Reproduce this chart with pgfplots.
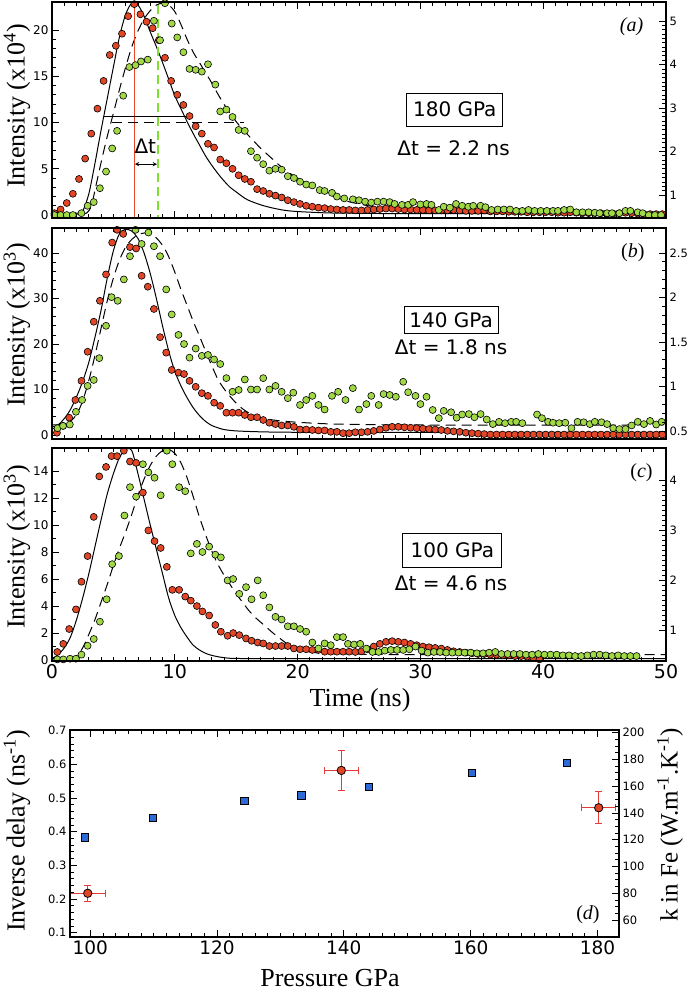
\documentclass[border=0pt]{standalone}
\usepackage{fontspec}
\setmainfont{Liberation Serif}
\newfontfamily\dv{DejaVu Sans}
\usepackage{pgfplots}
\pgfplotsset{compat=1.18}
\definecolor{rfill}{RGB}{226,70,38}
\definecolor{gfill}{RGB}{160,216,70}
\definecolor{bfill}{RGB}{45,105,215}
\definecolor{errred}{RGB}{225,60,55}
\definecolor{vred}{RGB}{235,70,40}
\definecolor{vgreen}{RGB}{130,222,50}
\pgfplotsset{
  base/.style={scale only axis, tick align=inside, axis line style={line width=1.1pt},
    every tick/.style={black, line width=0.8pt}, major tick length=7pt, minor tick length=4pt,
    /pgf/number format/assume math mode=true},
  redpts/.style={only marks, mark=*, mark size=3.5pt, mark options={fill=rfill, draw=black, line width=0.6pt}},
  grnpts/.style={only marks, mark=*, mark size=3.5pt, mark options={fill=gfill, draw=black, line width=0.6pt}},
  fitsolid/.style={no marks, black, line width=1pt, smooth},
  fitdash/.style={no marks, black, line width=1pt, dash pattern=on 10pt off 6pt, smooth},
}
\begin{document}
\begin{tikzpicture}
\useasboundingbox (0,0) rectangle (692pt,-993pt);
% ---------------- panel (a)
\begin{axis}[base, at={(52pt,-2pt)}, anchor=north west, width=614pt, height=216pt,
  xmin=0, xmax=50, ymin=-0.32, ymax=23.03, xtick={0,10,...,50}, minor x tick num=9, xticklabels={},
  ytick={0,5,...,20}, minor y tick num=4, ytick pos=left,
  yticklabel style={font=\dv\fontsize{12}{12}\selectfont}]
\addplot[fitsolid] table {
0 0.15
1 0.15
2 0.2
2.5 0.45
3 2.3
3.5 5.6
4 9.2
4.5 12.6
5 16.0
5.5 19.3
6 21.7
6.5 22.9
7 22.7
7.5 21.5
8 19.8
8.5 18.2
9 16.5
9.5 14.7
10 12.9
10.5 11.5
11 10.1
11.5 8.8
12 7.6
12.5 6.4
13 5.4
13.5 4.5
14 3.7
14.5 3.0
15 2.5
15.5 2.0
16 1.6
17 1.1
18 0.75
19 0.5
20 0.38
22 0.25
24 0.2
30 0.15
50 0.15
};
\addplot[fitdash] table {
0 0.1
2 0.1
2.8 0.2
3.2 1.0
3.6 3.3
4 5.7
4.5 8.5
5 11.0
5.5 13.6
6 16.0
6.5 18.2
7 19.9
7.5 21.2
8 22.1
8.5 22.7
9 22.9
9.5 22.7
10 22.0
10.5 20.6
11 19.0
11.5 17.6
12 16.5
12.5 15.4
13 14.3
13.5 13.1
14 12.0
14.5 11.0
15 10.1
15.5 9.3
16 8.6
16.5 7.9
17 7.2
17.5 6.6
18 6.0
18.5 5.4
19 4.9
19.5 4.4
20 4.0
21 3.2
22 2.5
23 2.0
24 1.5
25 1.2
26 0.95
27 0.75
28 0.6
30 0.4
32 0.3
35 0.25
40 0.2
50 0.2
};
\addplot[redpts] table {
0.2 0.2
0.7 0.6
1.2 1.3
1.7 2.3
2.2 3.9
2.7 6.1
3.2 8.8
3.7 11.5
4.2 14.5
4.7 17.3
5.2 18.3
5.7 19.6
6.2 21.5
6.7 22.8
7.2 21.7
7.7 20.9
8.2 20.2
8.7 18.9
9.2 17.0
9.7 14.5
10.2 13.0
10.7 11.9
11.2 10.7
11.7 9.6
12.2 8.8
12.7 7.7
13.2 7.3
13.7 6.0
14.2 5.6
14.7 5.0
15.2 4.3
15.7 3.9
16.2 3.6
16.7 2.8
17.2 2.6
17.7 2.3
18.2 2.1
18.7 1.9
19.2 1.6
19.7 1.4
20.2 1.2
20.7 1.0
21.2 0.9
21.7 0.8
22.2 0.75
22.7 0.65
23.2 0.6
23.7 0.55
24.2 0.55
24.7 0.5
25.2 0.5
25.7 0.55
26.2 0.6
26.7 0.65
27.2 0.7
27.7 0.7
28.2 0.65
28.7 0.6
29.2 0.6
29.7 0.55
30.2 0.55
30.7 0.5
31.2 0.5
31.7 0.5
32.2 0.5
32.7 0.55
33.2 0.5
33.7 0.45
34.2 0.45
34.7 0.45
35.2 0.5
35.7 0.4
36.2 0.4
36.7 0.4
37.2 0.35
37.7 0.35
38.2 0.35
38.7 0.3
39.2 0.3
39.7 0.3
40.2 0.3
40.7 0.3
41.2 0.25
41.7 0.25
42.2 0.3
42.7 0.25
43.2 0.2
43.7 0.2
44.2 0.2
44.7 0.2
45.2 0.15
45.7 0.15
46.2 0.2
46.7 0.25
47.2 0.2
47.7 0.15
48.2 0.1
48.7 0.1
49.2 0.1
49.7 0.1
};
\addplot[grnpts] table {
0.2 0.0
0.7 0.0
1.2 0.0
1.7 0.0
2.4 0.2
2.9 1.0
3.4 1.4
3.9 2.9
4.4 4.7
4.9 7.2
5.3 9.1
5.8 12.9
6.3 16.0
6.8 16.2
7.25 16.6
7.8 16.8
8.3 21.0
8.8 18.9
9.2 22.9
9.75 20.7
10.2 19.2
10.7 17.6
11.2 15.8
11.7 15.7
12.2 15.5
12.7 16.3
13.3 14.1
13.7 11.2
14.2 11.4
14.7 10.6
15.2 9.2
15.7 9.1
16.2 6.9
16.7 6.2
17.2 5.5
17.7 4.8
18.2 5.0
18.7 4.9
19.2 4.2
19.7 4.0
20.2 3.6
20.7 3.3
21.2 3.2
21.8 2.7
22.2 2.6
22.8 2.4
23.2 2.0
23.8 1.8
24.5 1.7
25.0 1.6
25.5 1.45
26.0 1.35
26.5 1.45
27.0 1.45
27.5 1.4
27.9 1.2
28.5 1.1
29.0 1.1
29.4 1.4
30.0 1.15
30.5 1.2
30.9 1.1
31.5 0.55
31.9 0.9
32.4 0.8
32.9 1.2
33.4 1.0
33.9 0.9
34.3 1.0
34.9 1.0
35.3 0.85
35.8 0.55
36.3 0.6
36.8 0.6
37.3 0.6
37.8 0.45
38.3 0.45
38.8 0.55
39.3 0.45
39.8 0.45
40.3 0.45
40.8 0.45
41.2 0.45
41.7 0.55
42.2 0.6
42.7 0.3
43.2 0.3
43.7 0.3
44.2 0.25
44.6 0.2
45.2 0.2
45.6 0.2
46.2 0.2
46.7 0.45
47.1 0.45
47.7 0.3
48.1 0.2
48.6 0.0
49.1 0.0
49.6 0.0
};
\addplot[vred, line width=1.3pt] coordinates {(6.7,-1) (6.7,24)};
\addplot[vgreen, line width=1.8pt, dash pattern=on 9pt off 5pt] coordinates {(8.6,-1) (8.6,24)};
\addplot[black, line width=1pt] coordinates {(4.2,10.6) (11.0,10.6)};
\addplot[black, line width=1pt, dash pattern=on 10pt off 6pt] coordinates {(4.9,9.95) (15.6,9.95)};
\addplot[black, line width=0.9pt, <->, >=stealth] coordinates {(6.75,5.5) (8.55,5.5)};
\node[font=\dv\fontsize{20}{20}\selectfont] at (axis cs:7.6,7.4) {Δt};
\node[draw, line width=0.8pt, font=\dv\fontsize{20}{20}\selectfont, minimum width=96pt, minimum height=33pt, inner sep=2pt] at (axis cs:32.8,11.4) {180 GPa};
\node[font=\dv\fontsize{20}{20}\selectfont] at (axis cs:32.7,7.2) {Δt = 2.2 ns};
\node[font=\itshape\fontsize{20}{20}\selectfont] at (axis cs:47.2,20.4) {(\textit{a})};
\end{axis}
\begin{axis}[base, at={(52pt,-2pt)}, anchor=north west, width=614pt, height=216pt,
  xmin=0, xmax=50, ymin=0.47, ymax=5.44, xtick=\empty, ytick={1,...,5}, minor y tick num=9,
  ytick pos=right, yticklabel pos=right,
  yticklabel style={font=\dv\fontsize{11.5}{11.5}\selectfont}]
\addplot[draw=none] coordinates {(0,1)};
\end{axis}
% ---------------- panel (b)
\begin{axis}[base, at={(52pt,-228pt)}, anchor=north west, width=614pt, height=211pt,
  xmin=0, xmax=50, ymin=-0.88, ymax=45.5, xtick={0,10,...,50}, minor x tick num=9, xticklabels={},
  ytick={0,10,...,40}, minor y tick num=4, ytick pos=left,
  yticklabel style={font=\dv\fontsize{12}{12}\selectfont}]
\addplot[fitsolid] table {
0 1.2
0.5 2.2
1 3.6
1.5 5.6
2 8.4
2.5 11.8
3 16.0
3.5 21.5
4 27.5
4.5 34.5
5 40.5
5.5 44.3
6 45.2
6.5 44.8
7 43.2
7.5 40.0
8 35.5
8.5 30.0
9 24.0
9.5 18.5
10 14.0
10.5 10.8
11 8.2
11.5 6.0
12 4.3
12.5 3.0
13 2.1
13.5 1.6
14 1.2
15 0.9
17 0.7
20 0.6
30 0.6
50 0.6
};
\addplot[fitdash] table {
0 2.2
1 2.4
1.5 3.0
2 4.5
2.5 7.5
3 12.0
3.5 17.5
4 23.5
4.5 29.5
5 34.5
5.5 38.5
6 41.3
6.5 43.0
7 44.0
7.5 44.4
8 44.3
8.5 43.3
9 41.7
9.5 39.2
10 35.8
10.5 32.0
11 28.5
11.5 25.0
12 21.8
12.5 18.5
13 15.3
13.5 12.3
14 10.2
14.5 8.5
15 7.0
15.5 5.8
16 4.9
16.5 4.3
17 3.8
18 3.3
19 3.0
20 2.8
22 2.5
24 2.35
27 2.25
30 2.2
50 2.2
};
\addplot[redpts] table {
0.4 0.5
0.9 2.0
1.4 3.8
1.9 7.7
2.4 11.9
2.9 18.3
3.4 24.9
3.9 29.5
4.4 35.3
4.9 42.3
5.3 45.1
5.8 44.2
6.35 41.3
6.85 41.0
7.3 35.0
7.8 32.6
8.3 27.7
8.8 21.5
9.3 18.1
9.75 14.3
10.3 13.7
10.75 13.4
11.2 11.9
11.7 10.6
12.2 9.2
12.7 8.6
13.2 7.1
13.7 6.4
14.2 4.9
14.7 4.9
15.2 4.9
15.7 4.4
16.2 3.9
16.7 3.9
17.2 3.3
17.7 2.7
18.2 2.4
18.7 2.1
19.2 2.1
19.7 1.8
20.2 1.2
20.7 1.2
21.2 1.1
21.7 1.0
22.2 1.0
22.7 0.7
23.2 0.7
23.7 0.4
24.2 0.4
24.7 0.6
25.2 0.6
25.7 0.7
26.2 0.9
26.7 1.2
27.2 1.6
27.7 1.8
28.2 1.8
28.7 1.7
29.2 1.6
29.7 1.5
30.2 1.4
30.7 1.3
31.2 1.2
31.7 1.1
32.2 0.9
32.7 0.8
33.2 0.7
33.7 0.5
34.2 0.4
34.7 0.3
35.2 0.2
35.7 0.1
36.2 0.1
36.7 0.1
37.2 0.1
37.7 0.1
38.2 0.1
38.7 0.1
39.2 0.1
39.7 0.1
40.2 0.1
40.7 0.1
41.2 0.1
41.7 0.1
42.2 0.1
42.7 0.1
43.2 0.1
43.7 0.1
44.2 0.1
44.7 0.1
45.2 0.1
45.7 0.1
46.2 0.1
46.7 0.1
47.2 0.1
47.7 0.1
48.2 0.1
48.7 0.1
49.2 0.1
49.7 0.1
};
\addplot[grnpts] table {
0.45 1.5
0.9 2.0
1.45 2.3
1.95 5.1
2.45 7.7
2.9 10.8
3.4 12.1
3.85 16.9
4.4 24.0
4.85 30.3
5.35 29.5
5.85 34.2
6.35 39.3
6.8 45.1
7.3 42.0
7.85 44.5
8.3 41.5
8.8 39.3
9.3 32.0
9.75 26.5
10.3 22.0
10.75 20.0
11.2 17.0
11.7 19.0
12.2 17.4
12.7 17.6
13.2 16.6
13.7 15.6
14.2 12.5
14.7 9.5
15.2 9.9
15.7 12.2
16.2 10.0
16.7 10.0
17.2 12.5
17.7 10.0
18.2 10.8
18.7 9.5
19.2 8.1
19.65 9.3
20.2 6.6
20.7 7.7
21.2 8.6
21.7 6.6
22.2 5.6
22.8 8.6
23.3 9.5
23.9 7.7
24.5 10.3
25.0 5.6
25.6 6.8
26.0 8.6
26.6 6.6
27.0 9.0
27.5 8.8
28.0 8.4
28.6 11.7
29.0 9.4
29.6 8.6
30.0 6.8
30.5 8.4
31.0 5.5
31.5 3.7
31.9 5.3
32.5 5.0
32.95 3.8
33.4 4.5
33.95 4.6
34.4 3.9
34.9 4.6
35.4 3.4
35.9 2.4
36.4 2.9
36.9 2.6
37.4 2.9
37.8 2.9
38.3 2.6
39.5 4.5
39.9 3.7
40.4 2.9
40.8 2.7
41.3 2.6
41.8 2.7
42.3 1.5
42.8 2.9
43.3 2.8
43.8 2.4
44.2 2.9
44.75 2.8
45.2 2.4
45.7 1.5
46.2 1.3
46.7 1.3
47.2 2.1
47.7 2.9
48.2 2.4
48.7 3.1
49.2 2.3
49.65 2.9
};
\node[draw, line width=0.8pt, font=\dv\fontsize{20}{20}\selectfont, minimum width=94pt, minimum height=27pt, inner sep=2pt] at (axis cs:32.5,25.2) {140 GPa};
\node[font=\dv\fontsize{20}{20}\selectfont] at (axis cs:32.5,19.4) {Δt = 1.8 ns};
\node[font=\fontsize{20}{20}\selectfont] at (axis cs:47.3,40) {(\textit{b})};
\end{axis}
\begin{axis}[base, at={(52pt,-228pt)}, anchor=north west, width=614pt, height=211pt,
  xmin=0, xmax=50, ymin=0.41, ymax=2.78, xtick=\empty, ytick={0.5,1,...,2.5}, minor y tick num=4,
  ytick pos=right, yticklabel pos=right,
  yticklabel style={font=\dv\fontsize{11.5}{11.5}\selectfont}]
\addplot[draw=none] coordinates {(0,1)};
\end{axis}
% ---------------- panel (c)
\begin{axis}[base, at={(52pt,-448pt)}, anchor=north west, width=614pt, height=213pt,
  xmin=0, xmax=50, ymin=-0.07, ymax=15.7, xtick={0,10,...,50}, minor x tick num=9,
  xticklabel style={font=\dv\fontsize{19}{19}\selectfont},
  ytick={0,2,...,14}, minor y tick num=1, ytick pos=left,
  yticklabel style={font=\dv\fontsize{12}{12}\selectfont}]
\addplot[fitsolid] table {
0 0.1
0.5 0.4
1 0.9
1.5 1.7
2 3.0
2.5 4.6
3 6.4
3.5 8.4
4 10.4
4.5 12.3
5 13.8
5.5 15.0
6 15.6
6.5 15.5
7 13.8
7.5 11.9
8 10.0
8.5 8.2
9 6.4
9.5 4.6
10 3.3
10.5 2.4
11 1.7
11.5 1.1
12 0.75
12.5 0.5
13 0.35
13.5 0.25
14 0.18
15 0.12
20 0.1
50 0.1
};
\addplot[fitdash] table {
0 0.1
1.5 0.15
2 0.3
2.5 0.9
3 1.9
3.5 3.0
4 4.3
4.5 5.6
5 7.0
5.5 8.3
6 9.5
6.5 10.8
7 12.2
7.5 13.4
8 14.4
8.5 15.1
9 15.5
9.5 15.6
10 15.3
10.5 14.6
11 13.5
11.5 12.1
12 10.6
12.5 9.3
13 8.1
13.5 7.1
14 6.3
14.5 5.6
15 4.9
15.5 4.3
16 3.7
16.5 3.2
17 2.8
17.5 2.4
18 2.0
18.5 1.65
19 1.3
19.5 1.05
20 0.85
20.5 0.7
21 0.6
22 0.5
24 0.45
30 0.4
50 0.4
};
\addplot[redpts] table {
0.43 0.6
0.92 1.2
1.4 2.3
1.95 3.75
2.4 5.8
2.9 7.7
3.4 10.6
3.85 13.6
4.4 14.3
4.85 15.1
5.3 15.1
5.85 15.5
6.35 14.7
6.85 14.6
7.4 12.4
7.85 9.6
8.35 8.8
8.85 8.3
9.35 6.9
9.8 5.2
10.35 5.2
10.85 4.7
11.3 4.4
11.8 4.0
12.25 3.6
12.8 3.3
13.3 2.6
13.75 2.1
14.3 1.8
14.75 2.0
15.25 1.85
15.8 1.6
16.25 1.43
16.75 1.3
17.2 1.23
17.7 1.04
18.2 1.04
18.7 1.04
19.2 1.04
19.7 0.86
20.2 0.8
20.7 0.8
21.2 0.75
21.7 0.75
22.2 0.62
22.7 0.62
23.2 0.62
23.7 0.62
24.2 0.62
24.7 0.6
25.2 0.65
25.7 0.8
26.2 1.0
26.7 1.2
27.2 1.35
27.7 1.4
28.2 1.35
28.7 1.3
29.2 1.2
29.7 1.1
30.2 1.0
30.7 0.95
31.2 0.9
31.7 0.85
32.2 0.75
32.7 0.65
33.2 0.6
33.7 0.55
34.2 0.5
34.7 0.45
35.2 0.45
35.7 0.4
36.2 0.4
36.7 0.35
37.2 0.35
37.7 0.3
38.2 0.3
38.7 0.25
39.2 0.15
39.7 0.05
};
\addplot[grnpts] table {
0.43 0.05
0.92 0.05
1.47 0.1
1.95 0.1
2.4 0.4
2.9 1.06
3.4 1.56
3.9 2.84
4.45 4.5
4.9 7.1
5.45 7.7
5.9 10.7
6.35 12.8
6.85 12.1
7.4 14.5
7.85 13.9
8.35 13.5
8.85 12.2
9.35 15.5
9.8 14.5
10.35 12.8
10.85 12.5
11.3 7.9
11.8 8.6
12.25 8.0
12.8 8.4
13.3 7.8
13.75 7.6
14.3 5.9
14.75 6.0
15.25 4.9
15.8 5.4
16.25 4.5
16.75 5.9
17.2 4.8
17.7 3.9
18.2 3.2
18.7 3.0
19.2 2.5
19.7 2.5
20.2 2.3
20.7 2.1
21.2 1.3
21.7 0.86
22.2 1.23
22.7 1.1
23.2 1.7
23.7 1.7
24.1 1.2
24.6 1.15
25.1 1.2
25.6 0.85
26.1 0.6
26.6 0.6
27.1 0.7
27.6 0.75
28.1 0.75
28.6 0.75
29.1 0.8
29.6 1.0
30.1 0.7
30.6 0.55
31.1 0.6
31.6 0.6
32.1 0.55
32.6 0.55
33.1 0.55
33.6 0.55
34.1 0.55
34.6 0.5
35.1 0.5
35.6 0.55
36.1 0.6
36.6 0.45
37.1 0.45
37.6 0.45
38.1 0.45
38.6 0.4
39.1 0.4
39.6 0.45
40.1 0.4
40.6 0.4
41.1 0.4
41.6 0.35
42.1 0.35
42.6 0.3
43.1 0.3
43.6 0.35
44.1 0.4
44.6 0.4
45.1 0.35
45.6 0.3
46.1 0.35
46.6 0.3
47.1 0.3
47.6 0.3
};
\node[draw, line width=0.8pt, font=\dv\fontsize{20}{20}\selectfont, minimum width=99pt, minimum height=34pt, inner sep=2pt] at (axis cs:32.6,8.15) {100 GPa};
\node[font=\dv\fontsize{20}{20}\selectfont] at (axis cs:32.5,5.7) {Δt = 4.6 ns};
\node[font=\fontsize{20}{20}\selectfont] at (axis cs:48.0,13.85) {(\textit{c})};
\end{axis}
\begin{axis}[base, at={(52pt,-448pt)}, anchor=north west, width=614pt, height=213pt,
  xmin=0, xmax=50, ymin=0.38, ymax=4.64, xtick=\empty, ytick={1,...,4}, minor y tick num=9,
  ytick pos=right, yticklabel pos=right,
  yticklabel style={font=\dv\fontsize{11.5}{11.5}\selectfont}]
\addplot[draw=none] coordinates {(0,1)};
\end{axis}
% ---------------- panel (d)
\begin{axis}[base, at={(70pt,-730pt)}, anchor=north west, width=549pt, height=207pt,
  xmin=96.8, xmax=183.4, ymin=0.087, ymax=0.702, xtick={100,120,...,180}, minor x tick num=9,
  xticklabel style={font=\dv\fontsize{18.5}{18.5}\selectfont},
  ytick={0.1,0.2,...,0.71}, minor y tick num=4, ytick pos=left,
  yticklabel style={font=\dv\fontsize{11.5}{11.5}\selectfont}]
\addplot[only marks, mark=square*, mark size=3.6pt, mark options={fill=bfill, draw=black, line width=0.7pt}] table {
99.2 0.383
109.9 0.441
124.3 0.491
133.3 0.508
144.0 0.532
160.2 0.575
175.2 0.605
};
\addplot[only marks, mark=*, mark size=4.2pt, mark options={fill=rfill, draw=black, line width=0.8pt},
  error bars/.cd, x dir=both, x explicit, y dir=both, y explicit,
  error bar style={errred, line width=1.1pt}, error mark=-, error mark options={rotate=90, errred, mark size=3.5pt, line width=1.1pt}]
  table[x=x, y=y, x error=ex, y error=ey] {
x y ex ey
99.6 0.217 2.8 0.024
139.6 0.582 2.65 0.059
180.2 0.471 2.65 0.047
};
\node[font=\fontsize{20}{20}\selectfont] at (axis cs:178.5,0.153) {(\textit{d})};
\end{axis}
\begin{axis}[base, at={(70pt,-730pt)}, anchor=north west, width=549pt, height=207pt,
  xmin=96.8, xmax=183.4, ymin=47.3, ymax=202, xtick=\empty, ytick={60,80,...,200}, minor y tick num=3,
  ytick pos=right, yticklabel pos=right,
  yticklabel style={font=\dv\fontsize{11.5}{11.5}\selectfont}]
\addplot[draw=none] coordinates {(100,100)};
\end{axis}
% ---------------- labels
\node[rotate=90, font=\fontsize{26}{26}\selectfont] at (17pt,-106pt) {Intensity (x10\textsuperscript{4})};
\node[rotate=90, font=\fontsize{26}{26}\selectfont] at (17pt,-325pt) {Intensity (x10\textsuperscript{3})};
\node[rotate=90, font=\fontsize{26}{26}\selectfont] at (17pt,-547pt) {Intensity (x10\textsuperscript{3})};
\node[font=\fontsize{26}{26}\selectfont] at (360pt,-700pt) {Time (ns)};
\node[rotate=90, font=\fontsize{26}{26}\selectfont] at (17pt,-831pt) {Inverse delay (ns\textsuperscript{-1})};
\node[rotate=90, font=\fontsize{25}{25}\selectfont] at (670pt,-825pt) {k in Fe (W.m\textsuperscript{-1}.K\textsuperscript{-1})};
\node[font=\fontsize{26}{26}\selectfont] at (330pt,-978pt) {Pressure GPa};
\end{tikzpicture}
\end{document}
